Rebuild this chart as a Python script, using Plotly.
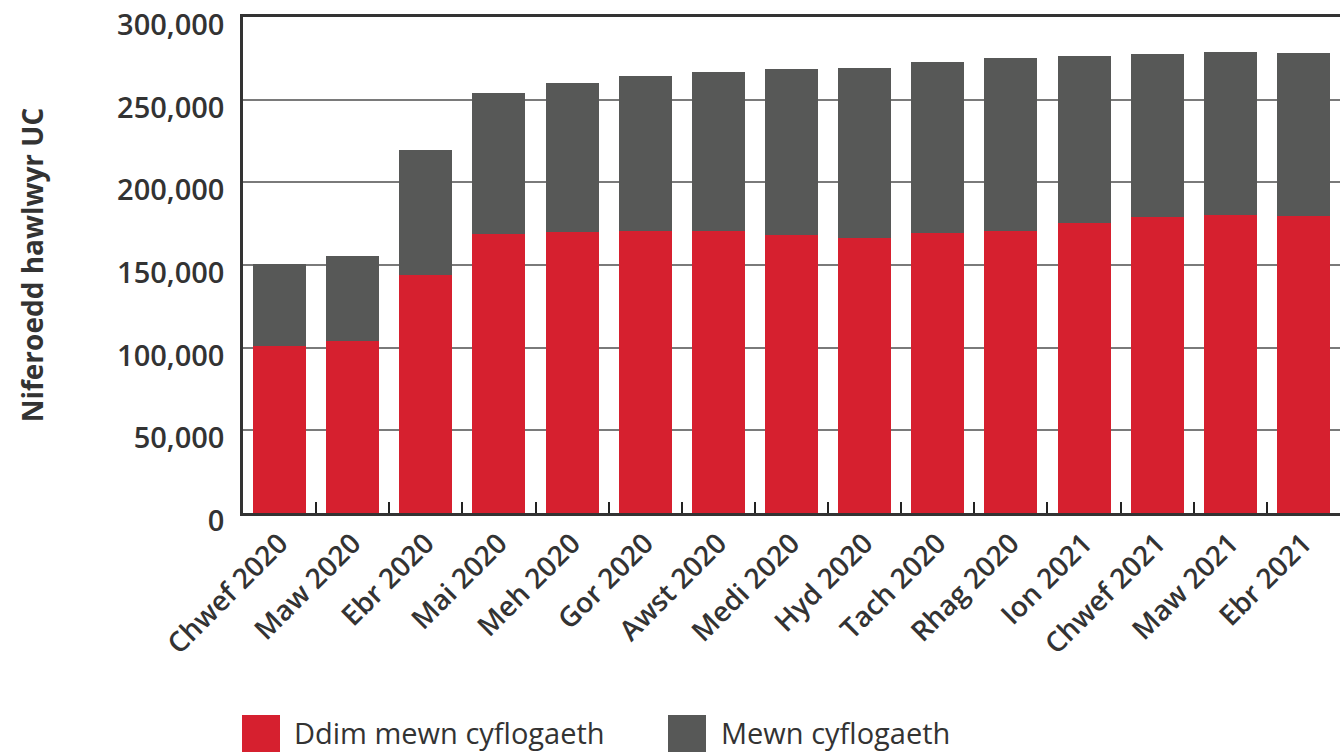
import plotly.graph_objects as go

# Universal Credit claimants by month, split by employment status
months = ["Chwef 2020", "Maw 2020", "Ebr 2020", "Mai 2020", "Meh 2020", "Gor 2020",
          "Awst 2020", "Medi 2020", "Hyd 2020", "Tach 2020", "Rhag 2020", "Ion 2021",
          "Chwef 2021", "Maw 2021", "Ebr 2021"]
not_in_work = [101100, 104200, 144000, 168800, 170000, 170400, 170400, 168000,
               166500, 169400, 170800, 175500, 179100, 180300, 179900]
in_work = [49600, 51300, 75600, 85100, 90000, 93900, 96300, 100500,
           102700, 103600, 104600, 101100, 98700, 98700, 98500]
series_names = ["Ddim mewn cyflogaeth", "Mewn cyflogaeth"]
series_colors = ["#D6202F", "#575857"]
y_ticks = [0, 50000, 100000, 150000, 200000, 250000, 300000]

W, H = 1340, 752
M_L, M_R, M_T, M_B = 243, 0, 17, 239
TEXT = "#333333"
FONT = "Open Sans"

fig = go.Figure()
for name, vals, col in zip(series_names, [not_in_work, in_work], series_colors):
    fig.add_trace(go.Bar(x=months, y=vals, name=name, marker_color=col,
                         marker_line_width=0, showlegend=False))

fig.update_layout(
    width=W, height=H,
    margin=dict(l=M_L, r=M_R, t=M_T, b=M_B),
    barmode="stack", bargap=0.275,
    plot_bgcolor="white", paper_bgcolor="white",
    font=dict(family=FONT, color=TEXT),
)
fig.update_xaxes(
    showline=True, linecolor="#333333", linewidth=2.5, mirror=True,
    ticks="inside", tickson="boundaries", ticklen=11, tickwidth=2, tickcolor="#222222",
    tickangle=-45, tickfont=dict(family=FONT, size=28, color=TEXT, weight=600),
    showgrid=False,
)
fig.update_yaxes(
    range=[0, 300000], tickvals=y_ticks, tickformat=",",
    showline=True, linecolor="#333333", linewidth=2.5,
    showgrid=True, gridcolor="#7a7a7a", gridwidth=1.5,
    ticks="", ticklabelstandoff=10, ticklabelshift=8,
    tickfont=dict(family=FONT, size=29, color=TEXT, weight=600),
    title=dict(text="Niferoedd hawlwyr UC", standoff=66,
               font=dict(family=FONT, size=28, color=TEXT, weight=700)),
    zeroline=False,
)

# Legend drawn below the chart with large colour swatches
plot_w = W - M_L - M_R
plot_h = H - M_T - M_B
def px_x(x):
    return (x - M_L) / plot_w
def px_y(y):
    return (H - M_B - y) / plot_h

legend_items = [(242, 292), (668, 719)]
for (sx, tx), name, col in zip(legend_items, series_names, series_colors):
    fig.add_shape(type="rect", xref="paper", yref="paper",
                  x0=px_x(sx), x1=px_x(sx + 38), y0=px_y(752), y1=px_y(715),
                  fillcolor=col, line_width=0)
    fig.add_annotation(xref="paper", yref="paper", x=px_x(tx), y=px_y(732),
                       text=name, showarrow=False, xanchor="left", yanchor="middle",
                       font=dict(family=FONT, size=29, color=TEXT, weight=400))

fig.write_html("out.html")
